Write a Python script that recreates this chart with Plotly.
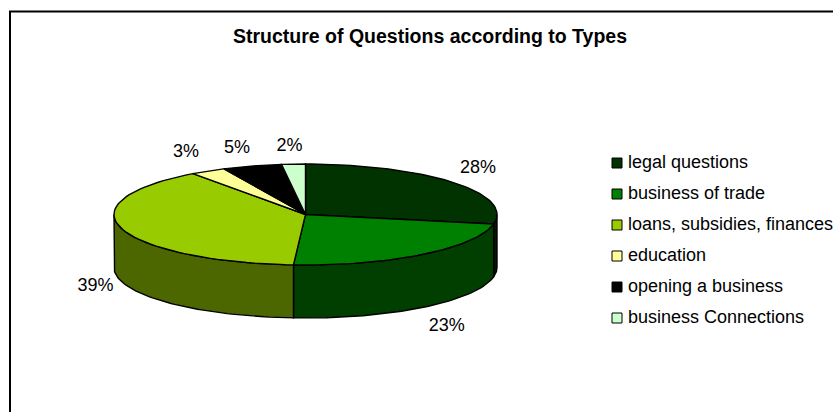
import numpy as np
import plotly.graph_objects as go

# chart values
categories = ["legal questions", "business of trade", "loans, subsidies, finances",
              "education", "opening a business", "business Connections"]
shares = [28, 23, 39, 3, 5, 2]
top_colors = ["#003300", "#008000", "#99CC00", "#FFFF99", "#000000", "#CCFFCC"]
side_colors = ["#001900", "#003F00", "#4C6600", "#808040", "#000000", "#668066"]

W, H = 833, 412

# pie geometry, pixels of the page
cx, cy, rx, ry, depth = 305.5, 214.5, 191.5, 50.5, 53
label_offsets = [(25, -14), (24, 72), (-26, 58), (-22, -19), (-15, -18), (-4, -18)]
outline = dict(color="#000000", width=1.4)

# legend rows
key_x, key_first_y, key_step = 617, 163, 31
font_name = "Liberation Sans"


def ellipse(deg, drop=0):
    # angles run clockwise from 12 o'clock
    rad = np.radians(deg)
    return cx + rx * np.sin(rad), cy - ry * np.cos(rad) + drop


fig = go.Figure()
edges = np.cumsum([0] + shares) * 3.6

# side wall first, only the front half of the cylinder shows
for start, end, color in zip(edges[:-1], edges[1:], side_colors):
    lo, hi = max(start, 90), min(end, 270)
    if lo >= hi:
        continue
    deg = np.linspace(lo, hi, 60)
    x_top, y_top = ellipse(deg)
    x_low, y_low = ellipse(deg, depth)
    fig.add_trace(go.Scatter(
        x=np.r_[x_top, x_low[::-1], x_top[0]], y=np.r_[y_top, y_low[::-1], y_top[0]],
        mode="lines", fill="toself", fillcolor=color, line=outline,
        showlegend=False, hoverinfo="skip"))

# top face
for start, end, color, name in zip(edges[:-1], edges[1:], top_colors, categories):
    deg = np.linspace(start, end, 60)
    x_arc, y_arc = ellipse(deg)
    fig.add_trace(go.Scatter(
        x=np.r_[cx, x_arc, cx], y=np.r_[cy, y_arc, cy],
        mode="lines", fill="toself", fillcolor=color, line=outline,
        showlegend=False, name=name, hoverinfo="name"))

# percent labels next to each slice
mids = (edges[:-1] + edges[1:]) / 2
anchor_x, anchor_y = ellipse(mids)
fig.add_trace(go.Scatter(
    x=anchor_x + np.array([o[0] for o in label_offsets]),
    y=anchor_y + np.array([o[1] for o in label_offsets]),
    mode="text", text=[f"{s}%" for s in shares],
    textfont=dict(family=font_name, size=18, color="#000000"),
    showlegend=False, hoverinfo="skip", cliponaxis=False))

# legend drawn by hand: plotly's own keeps too wide a gap between swatch and text
for i, (name, color) in enumerate(zip(categories, top_colors)):
    y = key_first_y + key_step * i
    fig.add_trace(go.Scatter(
        x=[key_x], y=[y], mode="markers", name=name, showlegend=False,
        marker=dict(symbol="square", size=10, color=color, line=dict(color="#000000", width=1)),
        cliponaxis=False))
    fig.add_trace(go.Scatter(
        x=[key_x + 11], y=[y], mode="text", text=[name], textposition="middle right",
        textfont=dict(family=font_name, size=18, color="#000000"),
        showlegend=False, hoverinfo="skip", cliponaxis=False))

fig.update_layout(
    width=W, height=H,
    margin=dict(l=0, r=0, t=0, b=0, autoexpand=False),
    paper_bgcolor="#FFFFFF", plot_bgcolor="rgba(0,0,0,0)",
    showlegend=False,
    xaxis=dict(range=[0, W], visible=False, fixedrange=True),
    yaxis=dict(range=[H, 0], visible=False, fixedrange=True),
    annotations=[dict(text="<b>Structure of Questions according to Types</b>",
                      x=429.5, y=35.5, xref="x", yref="y", showarrow=False,
                      font=dict(family=font_name, size=19.5, color="#000000"))],
    shapes=[dict(type="rect", xref="x", yref="y", x0=10, x1=W + 10, y0=11.5, y1=H + 10,
                 line=dict(color="#000000", width=2))],
)

# drop the default body margin so the figure fills the window
fig.write_html("out.html", config={"displayModeBar": False},
               post_script="document.body.style.margin = '0';")
